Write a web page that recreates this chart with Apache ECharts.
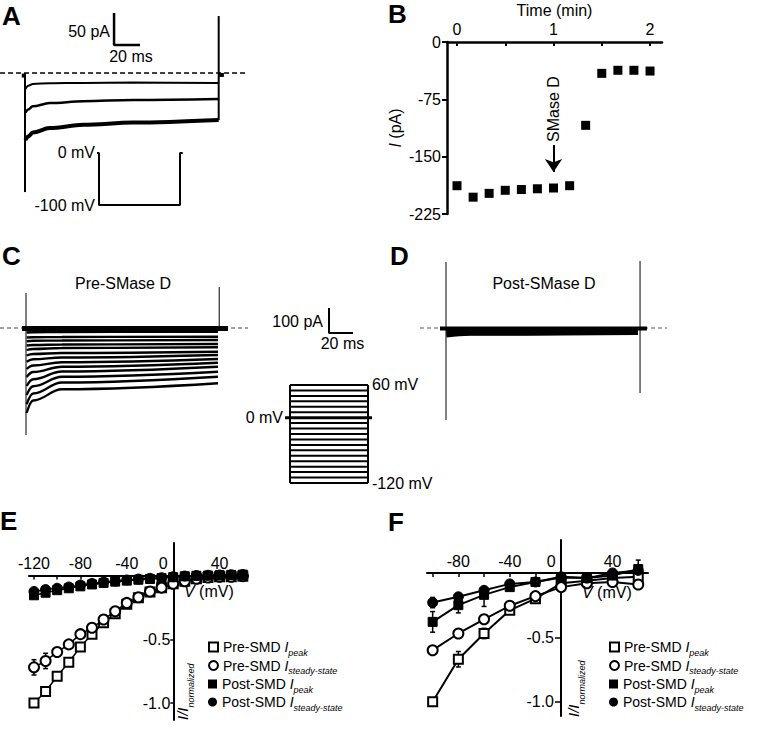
<!DOCTYPE html>
<html><head><meta charset="utf-8">
<script src="https://cdn.jsdelivr.net/npm/echarts@6/dist/echarts.min.js"></script>
<style>html,body{margin:0;padding:0;background:#fff}#chart{width:760px;height:729px}</style>
</head><body><div id="chart"></div>
<script>
const FONT = '"Liberation Sans", Arial, Helvetica, sans-serif';

// ---------- Panel A: current traces (pA vs ms) ----------
const aTimesMs = [0.3, 2.5, 6, 19, 45, 83, 149];
const aTraceSmallPa = [-25, -20, -17, -16, -15.5, -15, -15.5];
const aTraceMediumPa = [-62, -57, -52, -47, -44, -42, -40.5];
const aTraceLargePa = [-105, -99, -93, -86, -81, -77.5, -73.5];
const aOnTransientMs = [0, 0];
const aOnTransientPa = [0, -186];
const aOffTransientMs = [149, 149];
const aOffTransientPa = [-73.5, 89];
const aTailMs = [149, 153];
const aTailPa = [-3, -3];
const aPreBlobMs = [-2.5, 0];
const aPreBlobPa = [-4, -4];
const aBaselineMs = [-19.2, 171.5];
const aBaselinePa = [0, 0];
const aScaleBarMs = [68.5, 68.5, 88.5];
const aScaleBarPa = [93.75, 43.75, 43.75];
const aProtocolMs = [-3.7, 0, 0, 150, 150, 155];
const aProtocolMv = [0, 0, -100, -100, 0, 0];
const aProtocolLabelMv = [0, -100];

// ---------- Panel B: current vs time ----------
const bTimeMin = [0, 0.167, 0.333, 0.5, 0.667, 0.833, 1.0, 1.167, 1.333, 1.5, 1.667, 1.833, 2.0];
const bCurrentPa = [-188, -203, -198, -194, -193, -192, -191, -188, -109, -41, -37, -37, -38];
const bArrowMin = [1, 1];
const bArrowPa = [-134.7, -170];
const bTickMin = [0, 0.5, 1, 1.5, 2];
const bLabelMin = [0, 1, 2];

// ---------- Panels C / D: current families ----------
const stepMv = [-120, -110, -100, -90, -80, -70, -60, -50, -40, -30, -20, -10, 0, 10, 20, 30, 40, 50, 60];
const cTimesMs = [0.5, 6, 30, 160];
const cPeakPa  = [-340, -305, -268, -232, -196, -164, -135, -110, -88, -70, -53, -38, -18, -8, -5, -3, -2, -1, 0];
const cEarlyPa = [-290, -262, -233, -205, -176, -150, -125, -104, -84, -68, -51, -37, -17, -8, -5, -3, -2, -1, 0];
const cMidPa   = [-245, -218, -195, -174, -155, -137, -118, -100, -80, -66, -50, -36, -16, -7, -4, -3, -2, -1, 0];
const cEndPa   = [-221, -195, -175, -155, -139, -124, -108, -95, -77, -64, -48, -35, -15, -7, -4, -3, -2, -1, 0];
const cHoldingMs = [-3.3, 168.3];
const cHoldingPa = [-2, -2];
const cOnTransientMs = [0, 0];
const cOnTransientPa = [140, -428];
const cOffTransientMs = [161, 161];
const cOffTransientPa = [164, 0];
const cBaselineMs = [-21.7, 185];
const cBaselinePa = [0, 0];
const cScaleBarMs = [252.5, 252.5, 272.5];
const cScaleBarPa = [80, -20, -20];
const cProtocolPulseMs = [0, 150];
const cProtocolPreMs = [-9.6, 0];
const cProtocolPostMs = [150, 157.7];
const cProtocolHoldMv = [0, 0];
const cProtocolLeftLabelMv = [0];
const cProtocolRightLabelMv = [60, -120];

const dTimesMs = [0.5, 20, 160];
const dPeakPa = [-34, -31, -28, -25, -22, -19, -17, -15, -13, -11, -10, -9, -7, -6, -5, -4, -3, -2, -1];
const dMidPa  = [-27, -25, -23, -21, -19, -17, -15, -13, -12, -10, -9, -8, -7, -6, -5, -4, -3, -2, -1];
const dEndPa  = [-24, -22, -20, -18, -16, -15, -14, -12, -11, -10, -9, -8, -7, -6, -5, -4, -3, -2, -1];
const dHoldingMs = [-5, 167.5];
const dHoldingPa = [-1.5, -1.5];
const dOnTransientMs = [0, 0];
const dOnTransientPa = [264, -368];
const dOffTransientMs = [161.7, 161.7];
const dOffTransientPa = [268, -260];
const dBaselineMs = [-21.7, 184.2];
const dBaselinePa = [0, 0];

// ---------- Panel E: normalized I-V ----------
const eMv = [-120, -110, -100, -90, -80, -70, -60, -50, -40, -30, -20, -10, 0, 10, 20, 30, 40, 50, 60];
const ePrePeak   = [-1.0, -0.91, -0.79, -0.68, -0.56, -0.46, -0.37, -0.30, -0.225, -0.175, -0.13, -0.095, -0.065, -0.045, -0.025, -0.015, -0.01, -0.01, -0.005];
const ePreSteady = [-0.72, -0.67, -0.60, -0.54, -0.46, -0.41, -0.345, -0.28, -0.215, -0.17, -0.125, -0.095, -0.065, -0.045, -0.025, -0.015, -0.01, -0.01, -0.005];
const ePostPeak  = [-0.155, -0.135, -0.115, -0.1, -0.085, -0.07, -0.058, -0.048, -0.04, -0.033, -0.027, -0.02, -0.013, -0.006, -0.002, 0.0, 0.003, 0.005, 0.007];
const ePostSteady= [-0.125, -0.11, -0.1, -0.09, -0.075, -0.062, -0.052, -0.043, -0.035, -0.028, -0.022, -0.017, -0.01, -0.004, 0.0, 0.002, 0.004, 0.006, 0.008];
const eErrMv   = [-120, -110, -100, -120];
const eErrLow  = [-0.78, -0.73, -0.63, -0.18];
const eErrHigh = [-0.66, -0.61, -0.57, -0.13];
const eTickMv = [-120, -100, -80, -60, -40, -20, 0, 20, 40, 60];
const eLabelMv = [-120, -80, -40, 0, 40];
const ivLabelY = [-1, -0.5];

// ---------- Panel F: normalized I-V ----------
const fMv = [-100, -80, -60, -40, -20, 0, 20, 40, 60];
const fPrePeak   = [-1.0, -0.67, -0.47, -0.29, -0.20, -0.08, -0.06, -0.04, -0.03];
const fPreSteady = [-0.60, -0.47, -0.36, -0.255, -0.18, -0.11, -0.08, -0.07, -0.09];
const fPostPeak  = [-0.38, -0.25, -0.17, -0.11, -0.07, -0.035, -0.04, -0.02, 0.03];
const fPostSteady= [-0.23, -0.185, -0.135, -0.085, -0.07, -0.03, -0.04, 0.0, 0.02];
const fErrMv   = [-80, -60, -40, -100, -80, -60, -100, -80, 60, 60, 40];
const fErrLow  = [-0.73, -0.51, -0.32, -0.46, -0.31, -0.26, -0.27, -0.21, -0.07, -0.12, -0.09];
const fErrHigh = [-0.61, -0.43, -0.26, -0.30, -0.19, -0.12, -0.19, -0.16, 0.10, -0.06, -0.05];
const fTickMv = [-100, -80, -60, -40, -20, 0, 20, 40, 60];
const fLabelMv = [-80, -40, 0, 40];

const legendNames = ['Pre-SMD Ipeak', 'Pre-SMD Isteady-state', 'Post-SMD Ipeak', 'Post-SMD Isteady-state'];

// ================= build =================
const black = '#000';
function pairs(xs, ys) { return xs.map((x, i) => [x, ys[i]]); }
function hiddenX(gridIndex, min, max) { return {type: 'value', gridIndex, min, max, show: false}; }
function hiddenY(gridIndex, min, max) { return {type: 'value', gridIndex, min, max, show: false}; }
function line(name, gi, data, width, extra) {
  return Object.assign({
    name, type: 'line', xAxisIndex: gi, yAxisIndex: gi, data, symbol: 'none', showSymbol: false,
    lineStyle: {color: black, width}, itemStyle: {color: black}, silent: true,
    emphasis: {disabled: true}, z: 2, clip: false
  }, extra || {});
}
function errorBars(gi, xs, lo, hi) {
  return {
    type: 'custom', xAxisIndex: gi, yAxisIndex: gi, silent: true, z: 1,
    data: xs.map((x, i) => [x, lo[i], hi[i]]),
    renderItem(params, api) {
      const a = api.coord([api.value(0), api.value(1)]);
      const b = api.coord([api.value(0), api.value(2)]);
      const w = 2.5, st = {stroke: black, lineWidth: 1.5};
      return {type: 'group', children: [
        {type: 'line', shape: {x1: a[0], y1: a[1], x2: b[0], y2: b[1]}, style: st},
        {type: 'line', shape: {x1: a[0] - w, y1: a[1], x2: a[0] + w, y2: a[1]}, style: st},
        {type: 'line', shape: {x1: b[0] - w, y1: b[1], x2: b[0] + w, y2: b[1]}, style: st}
      ]};
    }
  };
}
function ivSeries(name, gi, xs, ys, symbol, filled, lw, size) {
  return {
    name, type: 'line', xAxisIndex: gi, yAxisIndex: gi, data: pairs(xs, ys),
    symbol, symbolSize: size, showSymbol: true, showAllSymbol: true, silent: true,
    emphasis: {disabled: true}, z: 3,
    itemStyle: filled ? {color: black, borderColor: black, borderWidth: 1, opacity: 1}
                      : {color: '#fff', borderColor: black, borderWidth: 2, opacity: 1},
    lineStyle: {color: black, width: lw, opacity: 1}
  };
}

const series = [];
// A
series.push(line('A baseline', 0, pairs(aBaselineMs, aBaselinePa), 1.5, {lineStyle: {color: black, width: 1.5, type: [5, 3]}}));
[[aTraceSmallPa, 2], [aTraceMediumPa, 2.5], [aTraceLargePa, 4]].forEach(([vals, w], k) => {
  series.push(line('A trace ' + k, 0, pairs(aTimesMs, vals), w, {smooth: 0.35, smoothMonotone: 'x'}));
});
series.push(line('A on', 0, pairs(aOnTransientMs, aOnTransientPa), 2));
series.push(line('A off', 0, pairs(aOffTransientMs, aOffTransientPa), 2));
series.push(line('A tail', 0, pairs(aTailMs, aTailPa), 4));
series.push(line('A pre', 0, pairs(aPreBlobMs, aPreBlobPa), 4));
series.push(line('A scale', 0, pairs(aScaleBarMs, aScaleBarPa), 2.5));
series.push(line('A protocol', 1, pairs(aProtocolMs, aProtocolMv), 2));
// B
series.push({
  name: 'B current', type: 'scatter', xAxisIndex: 2, yAxisIndex: 2, data: pairs(bTimeMin, bCurrentPa),
  symbol: 'rect', symbolSize: 9, itemStyle: {color: black, opacity: 1}, silent: true, emphasis: {disabled: true},
  markLine: {
    silent: true, symbol: ['none', 'arrow'], symbolSize: 13, animation: false,
    lineStyle: {color: black, width: 2, type: 'solid', opacity: 1}, label: {show: false},
    data: [[{coord: [bArrowMin[0], bArrowPa[0]]}, {coord: [bArrowMin[1], bArrowPa[1]]}]]
  }
});
// C
series.push(line('C baseline', 3, pairs(cBaselineMs, cBaselinePa), 1, {lineStyle: {color: '#444', width: 1, type: [4, 3]}}));
series.push(line('C holding', 3, pairs(cHoldingMs, cHoldingPa), 5));
stepMv.forEach((v, i) => {
  const vals = [cPeakPa[i], cEarlyPa[i], cMidPa[i], cEndPa[i]];
  series.push(line('C ' + v + ' mV', 3, pairs(cTimesMs, vals), 2.3, {smooth: 0.4, smoothMonotone: 'x'}));
});
series.push(line('C on', 3, pairs(cOnTransientMs, cOnTransientPa), 1));
series.push(line('C off', 3, pairs(cOffTransientMs, cOffTransientPa), 1));
series.push(line('C scale', 3, pairs(cScaleBarMs, cScaleBarPa), 2));
stepMv.forEach(v => {
  series.push(line('C step ' + v, 4, pairs(cProtocolPulseMs, [v, v]), v === 0 ? 3 : 2));
});
cProtocolPulseMs.forEach(t => {
  series.push(line('C edge ' + t, 4, pairs([t, t], [stepMv[stepMv.length - 1], stepMv[0]]), 2));
});
series.push(line('C hold pre', 4, pairs(cProtocolPreMs, cProtocolHoldMv), 3));
series.push(line('C hold post', 4, pairs(cProtocolPostMs, cProtocolHoldMv), 3));
// D
series.push(line('D baseline', 5, pairs(dBaselineMs, dBaselinePa), 1, {lineStyle: {color: '#555', width: 1, type: [4, 3]}}));
series.push(line('D holding', 5, pairs(dHoldingMs, dHoldingPa), 4));
stepMv.forEach((v, i) => {
  series.push(line('D ' + v + ' mV', 5, pairs(dTimesMs, [dPeakPa[i], dMidPa[i], dEndPa[i]]), 2, {smooth: 0.4, smoothMonotone: 'x'}));
});
series.push(line('D on', 5, pairs(dOnTransientMs, dOnTransientPa), 1));
series.push(line('D off', 5, pairs(dOffTransientMs, dOffTransientPa), 1));
// E
series.push(errorBars(6, eErrMv, eErrLow, eErrHigh));
series.push(ivSeries(legendNames[0], 6, eMv, ePrePeak, 'rect', false, 1.5, 9));
series.push(ivSeries(legendNames[1], 6, eMv, ePreSteady, 'circle', false, 1.5, 10));
series.push(ivSeries(legendNames[2], 6, eMv, ePostPeak, 'rect', true, 1.5, 9));
series.push(ivSeries(legendNames[3], 6, eMv, ePostSteady, 'circle', true, 1.5, 10));
// F
series.push(errorBars(7, fErrMv, fErrLow, fErrHigh));
series.push(ivSeries(legendNames[0], 7, fMv, fPrePeak, 'rect', false, 2, 9));
series.push(ivSeries(legendNames[1], 7, fMv, fPreSteady, 'circle', false, 2, 10));
series.push(ivSeries(legendNames[2], 7, fMv, fPostPeak, 'rect', true, 2, 9));
series.push(ivSeries(legendNames[3], 7, fMv, fPostSteady, 'circle', true, 2, 10));

const axisText = {fontSize: 16, color: black, fontFamily: FONT};

// x axis drawn on the y = 0 line (offset from grid top), y axis on the x = 0 line (offset from grid left)
function ivX(gi, min, max, ticks, labels, offset) {
  return {
    type: 'value', gridIndex: gi, min, max, position: 'top', offset,
    axisLine: {show: true, onZero: false, lineStyle: {color: black, width: 2}},
    axisTick: {show: true, inside: true, length: 4, customValues: ticks, lineStyle: {color: black, width: 1.5}},
    axisLabel: Object.assign({show: true, margin: 4, customValues: labels,
      formatter: v => v === 0 ? '{z|0}' : String(v),
      rich: {z: {fontSize: 16, color: black, fontFamily: FONT, padding: [0, 20, 0, 0]}}}, axisText),
    splitLine: {show: false}
  };
}
function ivY(gi, min, max, tickLen, margin, offset) {
  return {
    type: 'value', gridIndex: gi, min, max, position: 'left', offset,
    axisLine: {show: true, onZero: false, lineStyle: {color: black, width: 2}},
    axisTick: {show: true, length: tickLen, customValues: ivLabelY, lineStyle: {color: black, width: 1.5}},
    axisLabel: Object.assign({show: true, margin, customValues: ivLabelY, formatter: v => v.toFixed(1)}, axisText),
    splitLine: {show: false}
  };
}

const grids = [
  {left: 0, top: 5, width: 250, height: 195},      // 0 A traces
  {left: 97, top: 145, width: 88, height: 67},     // 1 A protocol
  {left: 447, top: 42, width: 215, height: 172},   // 2 B
  {left: 0, top: 280, width: 372, height: 160},    // 3 C traces
  {left: 285, top: 380, width: 87, height: 108},   // 4 C protocol
  {left: 420, top: 255, width: 250, height: 175},  // 5 D traces
  {left: 29, top: 543, width: 219, height: 177},   // 6 E
  {left: 427, top: 540, width: 221, height: 176}   // 7 F
].map(g => Object.assign({containLabel: false, outerBoundsMode: 'none'}, g));

const xAxis = [
  hiddenX(0, -19.23, 173.08),
  hiddenX(1, -3.7, 159.26),
  {
    type: 'value', gridIndex: 2, min: -0.1036, max: 2.124, position: 'top',
    axisLine: {show: true, onZero: false, lineStyle: {color: black, width: 2.5}},
    axisTick: {show: true, inside: true, length: 4, customValues: bTickMin, lineStyle: {color: black, width: 2}},
    axisLabel: Object.assign({show: true, margin: 5, customValues: bLabelMin}, axisText),
    splitLine: {show: false},
    name: 'Time (min)', nameLocation: 'middle', nameGap: 24, nameTextStyle: axisText
  },
  hiddenX(3, -21.67, 288.33),
  hiddenX(4, -9.615, 157.69),
  hiddenX(5, -21.67, 186.67),
  ivX(6, -124.3, 64.5, eTickMv, eLabelMv, -32.5),
  ivX(7, -104.4, 67.6, fTickMv, fLabelMv, -33)
];

const yAxis = [
  hiddenY(0, -198.4, 106.25),
  {
    type: 'value', gridIndex: 1, min: -113.46, max: 15.38,
    axisLine: {show: false}, axisTick: {show: false}, splitLine: {show: false},
    axisLabel: Object.assign({show: true, margin: 2, customValues: aProtocolLabelMv, formatter: v => v + ' mV'}, axisText)
  },
  {
    type: 'value', gridIndex: 2, min: -225, max: 0, interval: 75,
    axisLine: {show: true, onZero: false, lineStyle: {color: black, width: 2.5}},
    axisTick: {show: true, length: 5, lineStyle: {color: black, width: 2}},
    axisLabel: Object.assign({show: true, margin: 6}, axisText),
    splitLine: {show: false},
    name: '{i|I} (pA)', nameLocation: 'middle', nameRotate: 90, nameGap: 44,
    nameTextStyle: Object.assign({rich: {i: {fontSize: 16, fontStyle: 'italic', fontFamily: FONT, color: black}}}, axisText)
  },
  hiddenY(3, -448, 192),
  {
    type: 'value', gridIndex: 4, min: -129.18, max: 69.18, position: 'left',
    axisLine: {show: false}, axisTick: {show: false}, splitLine: {show: false},
    axisLabel: Object.assign({show: true, margin: 2, customValues: cProtocolLeftLabelMv, formatter: v => v + ' mV'}, axisText)
  },
  hiddenY(5, -408, 292),
  ivY(6, -1.133, 0.255, 3, 3, -144.3),
  ivY(7, -1.111, 0.256, 6, 7, -134),
  {
    type: 'value', gridIndex: 4, min: -129.18, max: 69.18, position: 'right',
    axisLine: {show: false}, axisTick: {show: false}, splitLine: {show: false},
    axisLabel: Object.assign({show: true, margin: 0, customValues: cProtocolRightLabelMv, formatter: v => v + ' mV'}, axisText)
  }
];

const LEG_LH = 20;
const legendRich = {
  t: {fontSize: 14, fontFamily: FONT, color: black, lineHeight: LEG_LH, verticalAlign: 'middle'},
  i: {fontSize: 14, fontFamily: FONT, color: black, fontStyle: 'italic', lineHeight: LEG_LH, verticalAlign: 'middle'},
  s: {fontSize: 9, fontFamily: FONT, color: black, fontStyle: 'italic', lineHeight: LEG_LH, verticalAlign: 'bottom'}
};
function legendFormatter(name) {
  const m = name.match(/^(\S+) I(.+)$/);
  return '{t|' + m[1] + ' }{i|I}{s|' + m[2] + '}';
}
const legendData = [
  {name: legendNames[0], icon: 'rect', itemStyle: {color: '#fff', borderColor: black, borderWidth: 2}},
  {name: legendNames[1], icon: 'circle', itemStyle: {color: '#fff', borderColor: black, borderWidth: 2}},
  {name: legendNames[2], icon: 'rect', itemStyle: {color: black, borderColor: black, borderWidth: 0}},
  {name: legendNames[3], icon: 'circle', itemStyle: {color: black, borderColor: black, borderWidth: 0}}
];
const legendRowCenters = [648, 666.5, 685, 703];
function makeLegends(left) {
  return legendData.map((item, k) => ({
    left, top: legendRowCenters[k] - 8, orient: 'vertical', itemWidth: 9, itemHeight: 9, padding: 0,
    selectedMode: false, data: [item], formatter: legendFormatter,
    textStyle: {fontSize: 14, fontFamily: FONT, color: black, rich: legendRich}
  }));
}

function txt(x, y, text, opts) {
  opts = opts || {};
  const st = Object.assign({
    text, fill: black, font: (opts.weight || 'normal') + ' ' + (opts.size || 16) + 'px ' + FONT,
    fontSize: opts.size || 16, fontFamily: FONT, fontWeight: opts.weight || 'normal',
    align: opts.align || 'center', verticalAlign: opts.valign || 'middle',
    textAlign: opts.align || 'center', textVerticalAlign: opts.valign || 'middle'
  }, opts.style || {});
  return {type: 'text', x, y, rotation: opts.rotation || 0, silent: true, z: 10, style: st};
}
const normRich = {
  a: {fontSize: 15, fontFamily: FONT, fontStyle: 'italic', fill: black, color: black, lineHeight: 18, verticalAlign: 'top'},
  b: {fontSize: 9, fontFamily: FONT, fontStyle: 'italic', fill: black, color: black, lineHeight: 20, verticalAlign: 'bottom'}
};
const vRich = {i: {fontSize: 16, fontFamily: FONT, fontStyle: 'italic', fill: black, color: black}};

const graphic = [
  txt(2, 16, 'A', {size: 26, weight: 'bold', align: 'left'}),
  txt(388, 14, 'B', {size: 26, weight: 'bold', align: 'left'}),
  txt(2, 256, 'C', {size: 26, weight: 'bold', align: 'left'}),
  txt(390, 256, 'D', {size: 26, weight: 'bold', align: 'left'}),
  txt(0, 521, 'E', {size: 26, weight: 'bold', align: 'left'}),
  txt(388, 522, 'F', {size: 26, weight: 'bold', align: 'left'}),
  txt(110, 31, '50 pA', {align: 'right'}),
  txt(131, 56.5, '20 ms'),
  txt(553, 109, 'SMase D', {rotation: Math.PI / 2}),
  txt(123, 283, 'Pre-SMase D'),
  txt(544, 283, 'Post-SMase D'),
  txt(323, 321, '100 pA', {align: 'right'}),
  txt(342.5, 343.5, '20 ms'),
  txt(184, 591, '{i|V} (mV)', {align: 'left', style: {rich: vRich}}),
  txt(582, 592, '{i|V} (mV)', {align: 'left', style: {rich: vRich}}),
  txt(175, 720, '{a|I/I}{b|normalized}', {align: 'left', valign: 'top', rotation: Math.PI / 2, style: {rich: normRich}}),
  txt(566, 717, '{a|I/I}{b|normalized}', {align: 'left', valign: 'top', rotation: Math.PI / 2, style: {rich: normRich}})
];

const chart = echarts.init(document.getElementById('chart'), null, {renderer: 'svg', width: 760, height: 729});
chart.setOption({
  animation: false,
  backgroundColor: '#fff',
  textStyle: {fontFamily: FONT, color: black},
  grid: grids,
  xAxis, yAxis,
  legend: makeLegends(208).concat(makeLegends(609)),
  graphic,
  series
});
</script>
</body></html>
